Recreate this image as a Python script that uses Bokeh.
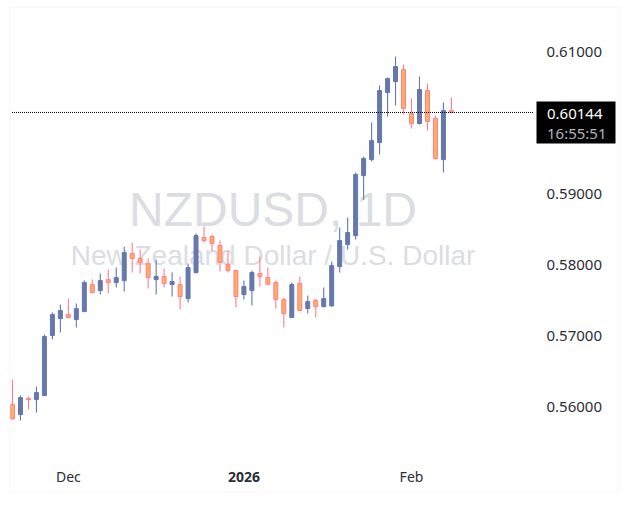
from bokeh.plotting import figure
from bokeh.models import ColumnDataSource, Label, BoxAnnotation, FixedTicker, Range1d, LinearAxis
from bokeh.embed import file_html
from bokeh.resources import INLINE

opens = [.56035,.55895,.56120,.56106,.56162,.57006,.57245,.57301,.57231,.57343,
         .57723,.57639,.57793,.57751,.57779,.58159,.58089,.58018,.57793,.57836,
         .57723,.57723,.57526,.57892,.58384,.58398,.58272,.58004,.57920,.57582,
         .57639,.57878,.57822,.57751,.57512,.57259,.57737,.57386,.57498,.57414,
         .57423,.57976,.58286,.58412,.59256,.59481,.59720,.60424,.60578,.60747,
         .60128,.59988,.60452,.60058,.59481,.60170]
highs = [.56387,.56162,.56148,.56288,.57020,.57329,.57442,.57526,.57456,.57779,
         .57793,.57878,.57934,.57962,.58257,.58314,.58215,.58089,.58075,.57948,
         .57892,.57836,.58018,.58440,.58539,.58426,.58342,.58201,.57934,.57779,
         .57920,.58117,.57962,.57779,.57540,.57751,.57836,.57568,.57526,.57681,
         .58047,.58525,.58665,.59298,.59523,.60002,.60522,.60635,.60930,.60817,
         .60339,.60649,.60550,.60100,.60283,.60353]
lows = [.55824,.55810,.55965,.55923,.56162,.56950,.57048,.57245,.57118,.57343,
        .57610,.57582,.57596,.57681,.57625,.57892,.57878,.57667,.57582,.57681,
        .57554,.57372,.57470,.57878,.58314,.58187,.57906,.57892,.57400,.57512,
        .57428,.57695,.57709,.57386,.57118,.57259,.57358,.57315,.57259,.57400,
        .57414,.57892,.58215,.58356,.58918,.59453,.59552,.60086,.60241,.60114,
        .59917,.59974,.59889,.59481,.59298,.60128]
closes = [.55834,.56134,.56106,.56204,.56992,.57301,.57357,.57259,.57385,.57751,
          .57610,.57779,.57751,.57821,.58173,.58089,.58032,.57821,.57836,.57737,
          .57765,.57554,.57962,.58412,.58342,.58300,.58033,.57920,.57554,.57695,
          .57892,.57836,.57728,.57512,.57315,.57723,.57358,.57484,.57414,.57526,
          .57990,.58342,.58455,.59270,.59495,.59748,.60452,.60620,.60789,.60199,
          .59988,.60466,.60016,.59495,.60170,.60144]
price_ticks = [0.56, 0.57, 0.58, 0.59, 0.60, 0.61]
x_ticks = {7: "Dec", 50: "Feb"}
year_tick = {29: "2026"}
last_time = "16:55:51"
title_1 = "NZDUSD, 1D"
title_2 = "New Zealand Dollar / U.S. Dollar"

UP = "#6577ab"
DN_LINE = "#ff7f8f"
DN_FILL = "#ffad60"
INK = "#2a2e39"
FONT = "Noto Sans"

idx = list(range(len(opens)))
src = ColumnDataSource(dict(
    x=idx, o=opens, h=highs, l=lows, c=closes,
    top=[max(a, b) for a, b in zip(opens, closes)],
    bottom=[min(a, b) for a, b in zip(opens, closes)],
    wick=[UP if c >= o else DN_LINE for o, c in zip(opens, closes)],
    fill=[UP if c >= o else DN_FILL for o, c in zip(opens, closes)],
))

def X(px):
    return (px - 12.0) / 7.98
def Y(py):
    return 0.61 - (py - 51.1) / 7110

W, H = 625, 500
FL, FR, FB = 11, 535, 460
p = figure(width=W, height=H, output_backend="svg", toolbar_location=None,
           x_range=Range1d(X(0), X(W)), y_range=Range1d(Y(H), Y(0)),
           min_border_left=0, min_border_right=0, min_border_top=0,
           min_border_bottom=0, x_axis_location=None, y_axis_location=None)
p.outline_line_color = None
p.background_fill_color = "white"
p.border_fill_color = "white"
p.grid.visible = False

for ttl, size, base in ((title_1, "48px", 209), (title_2, "28px", 255)):
    p.add_layout(Label(x=X(272.5), y=Y(base), text=ttl,
                       text_font="Liberation Sans", text_font_size=size, text_color="#dcdde2",
                       text_align="center", text_baseline="alphabetic", level="underlay"))

p.segment("x", "h", "x", "l", source=src, line_color="wick", line_width=1.1)
p.vbar("x", 0.5, "top", "bottom", source=src, fill_color="fill", line_color="wick", line_width=1)

r = p.segment(x0=[X(FL + 0.5)], y0=[closes[-1]], x1=[X(533.5)], y1=[closes[-1]], line_color="black", line_width=1)
r.glyph.line_dash = [1, 1]

def style(axis, size, bold=False):
    axis.axis_line_color = None
    axis.major_tick_line_color = None
    axis.minor_tick_line_color = None
    axis.major_label_text_font = FONT
    axis.major_label_text_font_size = size
    axis.major_label_text_color = INK
    if bold:
        axis.major_label_text_font_style = "bold"

ya = LinearAxis(fixed_location=X(FR), ticker=FixedTicker(ticks=price_ticks),
                major_label_overrides={v: f"{v:.5f}" for v in price_ticks}, major_label_standoff=5)
style(ya, "15px")
p.add_layout(ya, "right")

xa = LinearAxis(fixed_location=Y(FB), ticker=FixedTicker(ticks=list(x_ticks)),
                major_label_overrides=dict(x_ticks), major_label_standoff=0)
style(xa, "14px")
p.add_layout(xa, "below")

xb = LinearAxis(fixed_location=Y(FB), ticker=FixedTicker(ticks=list(year_tick)),
                major_label_overrides=dict(year_tick), major_label_standoff=5)
style(xb, "14px", bold=True)
p.add_layout(xb, "below")

# widget frame and last-price tag
p.add_layout(BoxAnnotation(left=X(9.5), right=X(618.5), top=Y(6.5), bottom=Y(491.5),
                           fill_alpha=0, line_color="#f3f3f3", line_width=2))
p.add_layout(BoxAnnotation(left=X(536), right=X(615), top=Y(101), bottom=Y(143),
                           fill_color="black", fill_alpha=1, line_color=None))
p.add_layout(Label(x=X(546.5), y=Y(113), text=f"{closes[-1]:.5f}",
                   text_font=FONT, text_font_size="15px", text_color="white",
                   text_baseline="middle"))
p.add_layout(Label(x=X(546.5), y=Y(132), text=last_time,
                   text_font=FONT, text_font_size="15px", text_color="#b2b5be",
                   text_baseline="middle"))

open("out.html", "w").write(file_html(p, INLINE))
